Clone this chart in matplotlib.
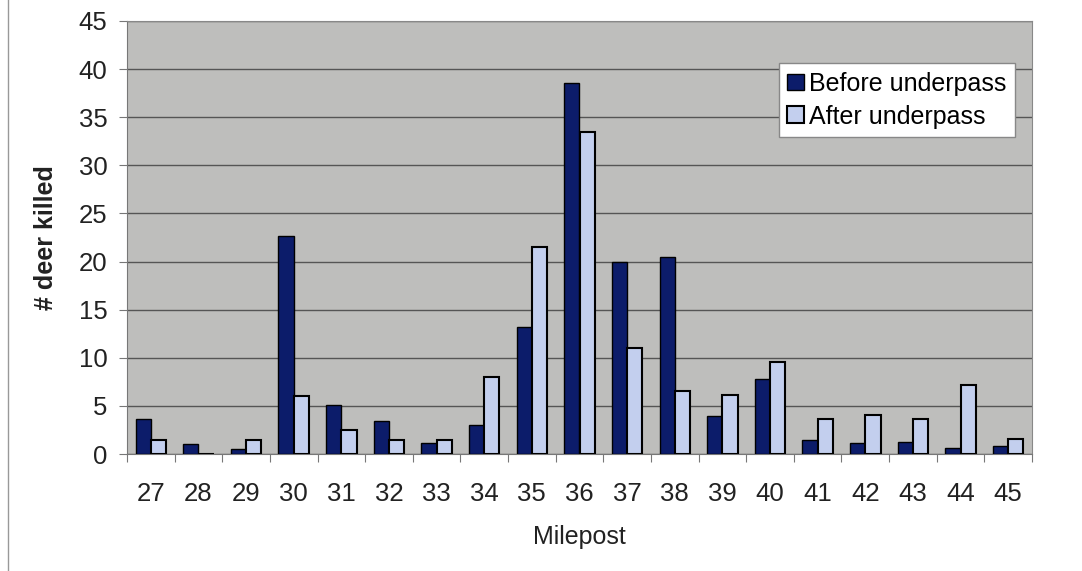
import numpy as np
import matplotlib.pyplot as plt
from matplotlib.lines import Line2D

plt.rcParams['font.family'] = ['Liberation Sans', 'DejaVu Sans']

# ----------- DATA -----------
mileposts = ["27", "28", "29", "30", "31", "32", "33", "34", "35", "36",
             "37", "38", "39", "40", "41", "42", "43", "44", "45"]
before = [3.6, 1.0, 0.5, 22.7, 5.1, 3.4, 1.1, 3.0, 13.2, 38.6,
          20.0, 20.5, 3.9, 7.8, 1.5, 1.1, 1.2, 0.6, 0.8]
after = [1.5, 0.0, 1.5, 6.0, 2.5, 1.5, 1.5, 8.0, 21.5, 33.5,
         11.0, 6.5, 6.1, 9.6, 3.6, 4.1, 3.6, 7.2, 1.6]

BEFORE_COLOR = "#0c1c6a"
AFTER_COLOR = "#c3cfee"
BG_COLOR = "#bebebc"

# ----------- FIGURE -----------
fig = plt.figure(figsize=(10.82, 5.71), dpi=100)
ax = fig.add_axes([127 / 1082, 1 - 454 / 571, 905 / 1082, 433 / 571])
ax.set_facecolor(BG_COLOR)

x = np.arange(len(mileposts))
w = 0.32
ax.bar(x - w / 2, before, w, color=BEFORE_COLOR, edgecolor="black",
       linewidth=1.0, label="Before underpass", zorder=3)
ax.bar(x + w / 2, after, w, color=AFTER_COLOR, edgecolor="black",
       linewidth=1.5, label="After underpass", zorder=3)

ax.set_xlim(-0.5, len(mileposts) - 0.5)
ax.set_ylim(0, 45)
ax.set_yticks(range(0, 46, 5))
ax.yaxis.grid(True, color="#555555", linewidth=1.0, zorder=1)

# category boundary ticks like a spreadsheet chart
ax.set_xticks(np.arange(-0.5, len(mileposts), 1.0), minor=False)
ax.set_xticklabels([])
ax.set_xticks(x, minor=True)
ax.set_xticklabels(mileposts, minor=True)
ax.tick_params(axis="x", which="minor", length=0, pad=20, labelsize=18.5,
               labelcolor="#222222")
ax.tick_params(axis="x", which="major", length=6, color="#777777")
ax.tick_params(axis="y", length=6, color="#777777", labelsize=18.5,
               labelcolor="#222222", pad=8)

for side in ["top", "right"]:
    ax.spines[side].set_color("#888888")
for side in ["left", "bottom"]:
    ax.spines[side].set_color("#777777")

ax.set_ylabel("# deer killed", fontsize=18, fontweight="bold", labelpad=15,
              color="#222222")
ax.set_xlabel("Milepost", fontsize=18, labelpad=14, color="#222222")

leg = ax.legend(loc="upper right", bbox_to_anchor=(0.981, 0.903),
                fontsize=18, frameon=True, fancybox=False, handlelength=0.65,
                handleheight=0.65, handletextpad=0.2, borderpad=0.35,
                labelspacing=0.35, framealpha=1.0, facecolor="white",
                borderaxespad=0)
leg.get_frame().set_edgecolor("#888888")
leg.get_frame().set_linewidth(1.0)

# thin outer border on the left edge of the page
fig.add_artist(Line2D([8 / 1082, 8 / 1082], [0, 1], color="#999999",
                      linewidth=1.0, transform=fig.transFigure))

fig.savefig("out.png", dpi=100, facecolor="white")
